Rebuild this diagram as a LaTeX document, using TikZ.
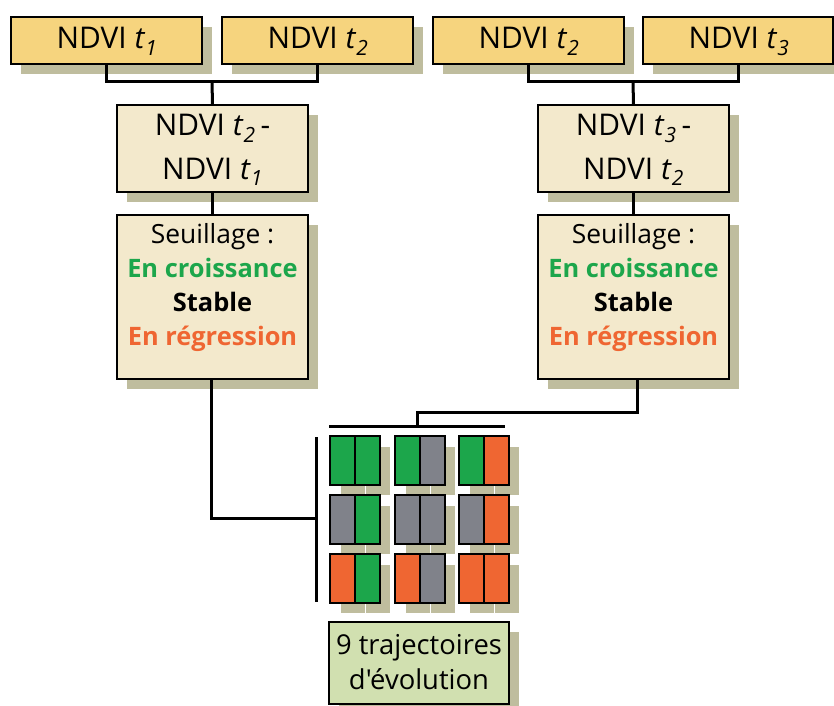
\documentclass[tikz,border=0pt]{standalone}
\usepackage{fontspec}
\setmainfont{Open Sans}[Ligatures=TeXOff]
\usetikzlibrary{shadows,calc}
\definecolor{topc}{HTML}{F6D47E}
\definecolor{creamc}{HTML}{F3E9CC}
\definecolor{shadowc}{HTML}{BFBD9E}
\definecolor{bottomc}{HTML}{D1E0B0}
\definecolor{greenc}{HTML}{1CA64B}
\definecolor{grayc}{HTML}{80828A}
\definecolor{orangec}{HTML}{EF6632}
\tikzset{
  box/.style={draw=black, line width=1.5bp, inner sep=0pt,
    minimum width=191bp,
    drop shadow={shadow xshift=10bp, shadow yshift=-10bp, fill=shadowc, opacity=1}},
  topbox/.style={box, fill=topc, minimum height=47bp},
  diffbox/.style={box, fill=creamc, minimum height=87bp},
  seuilbox/.style={box, fill=creamc, minimum height=164bp},
  endbox/.style={box, fill=bottomc, minimum width=180bp, minimum height=82bp},
  lbl/.style={anchor=base, inner sep=0pt, font=\fontsize{30}{36}\selectfont},
  slbl/.style={anchor=base, inner sep=0pt, font=\fontsize{26.5}{32}\selectfont},
  sblbl/.style={anchor=base, inner sep=0pt, font=\fontsize{25.5}{32}\selectfont\bfseries},
  elbl/.style={anchor=base, inner sep=0pt, font=\fontsize{27.5}{34}\selectfont},
  conn/.style={draw=black, line width=3bp, line join=miter},
  half/.style={draw=black, line width=1.5bp},
  halfshadow/.style={fill=shadowc, draw=white, line width=0.8bp}
}
\newcommand{\tvar}[1]{\textit{t}\textsubscript{\textit{#1}}}
\begin{document}
\begin{tikzpicture}[x=1bp,y=-1bp]
\useasboundingbox (0,0) rectangle (834,706);
% top boxes
\node[topbox] (a1) at (106.5,40.5) {};
\node[topbox] (a2) at (317.5,40.5) {};
\node[topbox] (a3) at (528.5,40.5) {};
\node[topbox, minimum width=190bp] (a4) at (738,40.5) {};
\node[lbl] (a1t) at (107,49) {NDVI \tvar{1}};
\node[lbl] (a2t) at (318,49) {NDVI \tvar{2}};
\node[lbl] (a3t) at (529,49) {NDVI \tvar{2}};
\node[lbl] (a4t) at (739,49) {NDVI \tvar{3}};
% difference boxes
\node[diffbox] (d1) at (212.5,148.5) {};
\node[diffbox] (d2) at (633.5,148.5) {};
\node[lbl] (d1a) at (212.5,136) {NDVI \tvar{2}\,-};
\node[lbl] (d1b) at (212.5,179) {NDVI \tvar{1}};
\node[lbl] (d2a) at (633.5,136) {NDVI \tvar{3}\,-};
\node[lbl] (d2b) at (633.5,179) {NDVI \tvar{2}};
% threshold boxes
\node[seuilbox, anchor=north] (s1) at (212.5,214) {};
\node[seuilbox, anchor=north] (s2) at (633.5,214) {};
\foreach \s/\x in {s1/212.5,s2/633.5}{
  \node[slbl] (\s a) at (\x,243) {Seuillage :};
  \node[sblbl, text=greenc] (\s b) at (\x,277) {En croissance};
  \node[sblbl] (\s c) at (\x,311) {Stable};
  \node[sblbl, text=orangec] (\s d) at (\x,345) {En régression};
}
% junctions
\coordinate (j1) at (212,82);
\coordinate (j2) at (633,82);
\draw[conn] (a1.south) |- (j1) -| (a2.south);
\draw[conn] (j1) -- (d1.north);
\draw[conn] (a3.south) |- (j2) -| (a4.south);
\draw[conn] (j2) -- (d2.north);
\draw[conn] (d1.south) -- (s1.north);
\draw[conn] (d2.south) -- (s2.north);
% brackets
\coordinate (vbt) at (316,437);
\coordinate (vbb) at (316,602);
\coordinate (vbm) at (316,518);
\coordinate (hbl) at (329,426);
\coordinate (hbr) at (505,426);
\coordinate (hbm) at (417,426);
\coordinate (k) at (417,412);
\draw[conn] (vbt) -- (vbb);
\draw[conn] (hbl) -- (hbr);
\draw[conn] ([xshift=-1bp]s1.south) |- (vbm);
\draw[conn] ([xshift=3.5bp]s2.south) |- (k) -- (hbm);
% tiles: shadows
\foreach \cx in {330,395,459}{
  \foreach \ry in {436,495,554}{
    \draw[halfshadow] (\cx+10,\ry+10) rectangle (\cx+35,\ry+59);
    \draw[halfshadow] (\cx+35,\ry+10) rectangle (\cx+60,\ry+59);
  }
}
% tiles
\foreach \cx/\cc in {330/greenc,395/grayc,459/orangec}{
  \foreach \ry/\rc in {436/greenc,495/grayc,554/orangec}{
    \draw[half, fill=\rc] (\cx,\ry) rectangle (\cx+25,\ry+49);
    \draw[half, fill=\cc] (\cx+25,\ry) rectangle (\cx+50,\ry+49);
  }
}
% result box
\node[endbox] (e) at (419,663) {};
\node[elbl] (e1) at (419,654) {9 trajectoires};
\node[elbl] (e2) at (419,689) {d'évolution};
\end{tikzpicture}
\end{document}
